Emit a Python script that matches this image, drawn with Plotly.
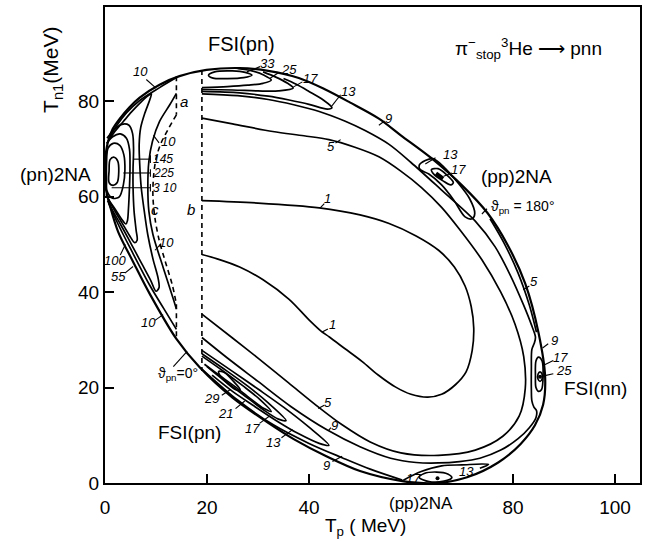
import plotly.graph_objects as go

# ---------------- axes ----------------
X_RANGE = [0, 104.9]
Y_RANGE = [0, 99.8]
X_TICKS = [0, 20, 40, 80, 100]
Y_TICKS = [0, 20, 40, 60, 80]

# ---------------- kinematic boundary (Tp, Tn1) ----------------
BOUNDARY = [(0.0, 64.5), (0.1, 68.5), (0.6, 71.6), (1.5, 74.2), (2.9, 76.4), (4.8, 78.8),
            (6.8, 80.8), (10.7, 83.5), (14.6, 85.3), (19.9, 86.6), (26.4, 87.0), (32.0, 86.4),
            (38.0, 84.9), (43.0, 82.6), (48.0, 79.8), (53.7, 76.4), (58.0, 72.9), (64.0, 68.1),
            (70.0, 62.4), (75.0, 56.6), (79.0, 49.8), (82.4, 41.8), (85.0, 31.5), (86.3, 22.2),
            (85.9, 16.4), (84.3, 12.1), (81.5, 8.2), (77.1, 4.3), (71.0, 1.2), (65.2, 0.0),
            (58.3, 0.4), (50.0, 2.5), (43.4, 5.6), (37.0, 9.2), (32.0, 12.6), (25.0, 17.9),
            (18.6, 24.2), (14.0, 30.2), (8.8, 39.6), (5.5, 46.4), (2.6, 52.6), (1.0, 58.0),
            (0.2, 61.5), (0.0, 64.5)]

# ---------------- right region contours ----------------
C1 = [(19.0, 59.2), (30.0, 58.7), (42.0, 57.7), (50.0, 56.2), (55.7, 54.4), (61.0, 51.8),
      (65.4, 48.8), (68.5, 45.3), (70.6, 41.3), (71.8, 37.0), (72.3, 32.5), (72.0, 27.8),
      (70.8, 23.3), (68.7, 20.6), (66.0, 18.6), (63.3, 18.0), (60.0, 18.6), (57.0, 20.1),
      (53.5, 22.7), (50.5, 25.4), (47.0, 28.2), (44.0, 30.6), (42.3, 31.9), (40.0, 34.2),
      (36.1, 38.5), (31.0, 42.6), (26.4, 45.3), (22.0, 47.0), (19.0, 47.9)]
C5 = [(19.0, 76.5), (25.0, 75.3), (32.9, 73.7), (39.0, 72.8), (43.9, 72.0), (49.0, 70.4),
      (53.7, 68.4), (58.0, 65.4), (62.0, 62.0), (66.0, 57.8), (69.5, 53.2), (73.9, 46.8),
      (77.6, 40.0), (80.4, 33.3), (82.1, 26.5), (82.4, 19.8), (81.2, 14.0), (78.0, 9.8),
      (72.6, 6.9), (65.4, 5.8), (58.0, 6.3), (52.0, 8.6), (46.5, 12.2), (42.0, 15.8),
      (36.0, 21.0), (30.0, 26.2), (25.0, 30.4), (19.0, 35.4)]
C9 = [(19.0, 81.6), (26.0, 81.2), (32.0, 80.4), (37.0, 79.3), (42.0, 77.9), (47.0, 75.9),
      (51.0, 73.9), (55.7, 71.0), (60.0, 67.2), (66.0, 61.4), (72.6, 54.9), (76.5, 49.5),
      (79.5, 43.5), (82.0, 37.5), (83.6, 33.2), (84.4, 30.6), (84.2, 29.4), (83.7, 28.0),
      (83.6, 24.0), (83.6, 19.5), (83.7, 17.2), (84.1, 15.9), (84.6, 15.2), (84.5, 13.7),
      (83.2, 11.6), (81.0, 9.3), (77.6, 6.9), (73.5, 5.2), (69.5, 4.5), (65.4, 4.2),
      (61.0, 4.3), (56.0, 5.2), (50.0, 7.6), (43.6, 11.1), (36.5, 16.0), (30.0, 21.3),
      (24.0, 26.2), (19.0, 30.5)]
C9_LOW = [(58.3, 0.6), (52.0, 2.9), (46.5, 5.3), (40.0, 8.3), (33.0, 12.2), (26.0, 17.4),
          (19.0, 23.9)]
C5_SLIVER = [(75.5, 55.4), (78.3, 50.2), (81.0, 44.0), (83.2, 37.3), (84.6, 31.6)]

# FSI(pn) ridge, upper band
T33_UP = [(20.3, 85.5), (21.5, 86.2), (25.0, 86.4), (27.5, 86.1), (28.8, 85.5), (27.2, 85.0),
          (24.0, 84.8), (21.2, 84.9), (20.3, 85.5)]
T25_UP = [(19.0, 82.9), (24.0, 83.1), (28.0, 83.4), (31.0, 83.8), (32.6, 84.5), (31.2, 85.5),
          (28.8, 86.4), (26.0, 86.9)]
T17_UP = [(19.0, 82.5), (25.0, 82.4), (30.0, 82.2), (34.0, 82.2), (36.9, 82.8), (35.8, 83.8),
          (33.5, 85.1), (31.0, 86.2)]
T13_UP = [(19.0, 82.1), (26.4, 81.8), (32.0, 81.1), (36.1, 80.3), (40.0, 79.4), (43.6, 78.4),
          (44.5, 78.7), (42.8, 80.3), (40.0, 82.1), (37.5, 83.6), (35.0, 84.8)]

# FSI(pn) ridge, lower band
T13_LOW = [(19.0, 27.8), (25.0, 23.4), (30.0, 19.7), (35.0, 15.9), (40.0, 11.7), (43.9, 7.9),
           (42.0, 8.3), (38.0, 10.3), (34.0, 12.8), (29.0, 16.3), (25.0, 19.2), (21.0, 22.6)]
T17_LOW = [(19.0, 27.1), (24.0, 23.4), (28.0, 20.3), (32.0, 16.8), (35.5, 13.1), (34.0, 13.4),
           (31.0, 15.4), (27.0, 18.6), (23.0, 21.8), (20.0, 24.4)]
T21_LOW = [(19.0, 26.6), (23.0, 23.6), (27.0, 20.4), (30.5, 17.4), (32.6, 15.0), (31.2, 15.6),
           (28.5, 17.7), (25.5, 20.2), (22.0, 22.9), (19.5, 24.9)]
T29_LOW = [(22.3, 23.4), (23.5, 23.1), (25.2, 21.3), (26.5, 19.6), (25.8, 19.5), (24.2, 20.7),
           (22.5, 22.6), (22.3, 23.4)]

# FSI(nn)
N17 = [(85.0, 26.4), (84.5, 25.6), (84.4, 22.5), (84.5, 20.0), (85.0, 19.2), (85.6, 19.6),
       (85.9, 22.5), (85.7, 25.6), (85.0, 26.4)]
N25 = [(85.3, 23.3), (84.9, 22.8), (84.9, 21.8), (85.3, 21.3), (85.7, 21.8), (85.7, 22.8),
       (85.3, 23.3)]

# (pp)2NA upper right
P13 = [(61.6, 66.6), (62.8, 67.6), (64.3, 68.0), (66.5, 66.2), (69.0, 63.2), (71.5, 59.6),
       (72.5, 56.5), (72.0, 55.4), (70.6, 55.8), (68.4, 59.3), (66.0, 62.5), (63.5, 64.8),
       (61.8, 65.7), (61.6, 66.6)]
P17 = [(64.0, 65.7), (65.3, 65.9), (67.0, 64.6), (68.3, 63.0), (67.8, 62.5), (66.2, 63.4),
       (64.6, 64.6), (64.0, 65.7)]
P_CORE = [(64.9, 64.9), (66.3, 63.8)]

# (pp)2NA bottom
B17 = [(61.6, 1.2), (62.6, 2.0), (65.0, 2.3), (67.2, 1.9), (68.0, 1.1), (66.5, 0.4),
       (63.5, 0.3), (61.6, 1.2)]
B13 = [(58.5, 0.6), (62.0, 2.4), (66.0, 3.6), (70.0, 3.8), (75.2, 3.9), (73.5, 3.1)]
PEAK_DOTS = [(65.2, 1.0), (85.3, 22.3)]

# ---------------- left region ((pn)2NA) ----------------
L10_UP = [(14.0, 85.0), (10.7, 82.9), (6.8, 80.2), (4.2, 77.6), (2.2, 74.8), (0.9, 72.4)]
L10_LOW = [(0.7, 58.8), (2.6, 54.2), (5.5, 48.1), (8.8, 41.4), (11.5, 36.6), (14.0, 32.2)]
L10_MID = [(14.0, 81.7), (12.7, 79.3), (10.7, 75.8), (9.3, 71.6), (8.6, 67.4), (8.4, 62.0),
           (8.6, 57.0), (9.4, 52.1), (11.4, 45.2), (13.3, 38.9), (14.0, 36.5)]
L55 = [(0.6, 71.6), (2.0, 73.8), (3.6, 75.8), (5.2, 77.8), (6.8, 79.6), (8.2, 81.0), (9.1, 81.6),
       (8.8, 80.4), (7.8, 77.5), (7.0, 74.5), (6.7, 71.0), (6.8, 67.0), (7.1, 62.0), (7.7, 57.0),
       (8.4, 52.0), (9.4, 47.0), (10.4, 43.0), (10.6, 41.0), (10.0, 40.2), (9.0, 42.4),
       (7.5, 45.4), (6.0, 48.4), (4.5, 51.4), (3.0, 54.3), (1.5, 57.1), (0.5, 59.2)]
L100 = [(0.4, 72.3), (1.8, 74.1), (3.3, 75.2), (4.7, 75.0), (5.4, 73.3), (5.6, 70.0), (5.5, 66.0),
        (5.5, 62.0), (5.7, 57.0), (6.1, 53.0), (6.3, 50.9), (5.8, 50.4), (4.8, 51.9), (3.3, 54.6),
        (1.8, 57.3), (0.5, 59.8)]
L145 = [(0.3, 71.2), (1.5, 72.6), (3.0, 73.2), (4.2, 72.3), (4.8, 70.0), (4.9, 66.0), (4.8, 62.0),
        (4.6, 57.5), (4.4, 55.0), (4.1, 54.3), (3.2, 55.4), (2.0, 57.4), (0.9, 59.1), (0.2, 60.5)]
L225 = [(0.4, 61.2), (1.5, 59.7), (2.8, 60.0), (3.6, 62.5), (3.9, 65.5), (3.7, 68.8), (2.9, 70.8),
        (1.6, 71.2), (0.6, 70.2), (0.3, 67.0), (0.3, 63.5), (0.4, 61.2)]
L310 = [(0.8, 63.0), (1.6, 62.4), (2.4, 63.0), (2.7, 65.3), (2.5, 67.5), (1.8, 68.3), (1.0, 67.8),
        (0.8, 65.5), (0.8, 63.0)]

# ---------------- dashed cut lines ----------------
DASH_C_TOP = [(14.0, 85.3), (14.0, 77.2)]
DASH_C_CURVE = [(14.0, 77.2), (12.5, 74.4), (11.0, 71.3), (10.0, 68.0), (9.5, 64.0), (9.4, 60.0),
                (9.8, 55.5), (10.6, 51.0), (11.8, 46.5), (13.2, 41.5), (14.0, 37.5)]
DASH_C_BOT = [(14.0, 37.5), (14.0, 30.2)]
DASH_RIGHT = [(19.0, 86.6), (19.0, 23.5)]

# ---------------- contour value labels: (text, Tp, Tn1) and leader segments ----------------
NUM_LABELS = [("10", 6.9, 86.2), ("10", 12.4, 71.7), ("10", 12.1, 50.4), ("100", 2.0, 46.6),
              ("55", 2.6, 43.2), ("10", 8.5, 33.6), ("33", 31.9, 87.9), ("25", 36.1, 86.8),
              ("17", 40.2, 84.8), ("13", 47.7, 82.0), ("9", 55.5, 76.4), ("13", 67.7, 68.9),
              ("17", 69.3, 65.8), ("5", 84.2, 42.2), ("9", 88.2, 29.9), ("17", 89.4, 26.3),
              ("25", 89.9, 23.5), ("1", 43.7, 59.6), ("1", 44.6, 33.2), ("5", 43.8, 16.9),
              ("9", 45.0, 12.1), ("9", 43.5, 3.7), ("13", 33.0, 8.5), ("17", 28.9, 11.5),
              ("21", 23.6, 14.6), ("29", 20.8, 17.7), ("17", 60.4, 1.0), ("13", 70.8, 2.5),
              ("5", 44.4, 70.5)]
PEAK_LABELS = [("145", 9.3, 67.9), ("225", 9.3, 65.0), ("3 10", 9.3, 61.9)]
LEADERS = [((8.1, 84.6), (10.0, 82.8)), ((9.5, 72.9), (10.6, 71.3)), ((5.5, 67.9), (8.9, 67.9)),
           ((8.9, 67.1), (8.9, 68.7)), ((3.6, 65.0), (8.9, 65.0)), ((8.9, 64.2), (8.9, 65.8)),
           ((1.3, 61.9), (8.9, 61.9)), ((8.9, 61.1), (8.9, 62.7)), ((9.8, 48.8), (11.0, 50.2)),
           ((3.0, 47.8), (4.0, 50.0)), ((3.9, 44.0), (5.5, 45.4)), ((9.8, 34.1), (11.4, 35.3)),
           ((30.4, 87.3), (27.8, 86.2)), ((34.0, 86.0), (32.3, 84.8)), ((38.7, 84.1), (36.9, 83.0)),
           ((46.2, 81.4), (44.3, 78.8)), ((54.8, 75.9), (53.7, 75.0)), ((64.8, 68.2), (62.8, 66.9)),
           ((68.0, 65.0), (66.4, 64.3)), ((83.2, 41.3), (82.0, 40.5)), ((86.9, 29.2), (85.8, 28.3)),
           ((87.9, 25.7), (86.2, 24.8)), ((87.9, 22.9), (85.8, 22.4)), ((43.0, 58.6), (42.2, 57.7)),
           ((43.7, 32.3), (42.5, 31.6)), ((43.0, 16.3), (41.8, 15.6)), ((44.3, 11.6), (43.8, 11.0)),
           ((44.6, 4.5), (46.5, 5.6)), ((34.6, 9.5), (36.8, 11.2)), ((30.3, 12.5), (32.2, 14.0)),
           ((25.6, 15.6), (27.4, 17.2)), ((22.9, 18.4), (24.6, 19.6)), ((45.2, 71.3), (46.2, 72.0)),
           ((13.4, 24.4), (16.1, 27.6)), ((74.9, 57.5), (73.9, 56.4))]

REGION_LABELS = [("a", 15.5, 80.0), ("b", 16.9, 57.3), ("c", 9.8, 57.3)]

# big text labels inside the data range: (text, Tp, Tn1, size)
BIG_LABELS = [("FSI(pn)", 26.8, 92.1, 20), ("(pp)2NA", 80.7, 64.3, 19),
              ("FSI(nn)", 96.1, 19.8, 19), ("FSI(pn)", 16.6, 10.6, 19)]
# big text labels outside the axes, in pixel positions of the 647x541 page: (text, px, py, size)
OUTER_LABELS = [("(pn)2NA", 55, 173, 19), ("(pp)2NA", 422, 504, 17)]

# ---------------- figure ----------------
FONT = "Liberation Sans"
W, H = 647, 541
ML, MR, MT, MB = 105, 5, 5, 58
PW, PH = W - ML - MR, H - MT - MB
fig = go.Figure()


def add_line(pts, width=1.7, dash=None, shape="spline", smoothing=1.0):
    xs = [p[0] for p in pts]
    ys = [p[1] for p in pts]
    line = dict(color="black", width=width, shape=shape)
    if dash:
        line["dash"] = dash
    if shape == "spline":
        line["smoothing"] = smoothing
    fig.add_trace(go.Scatter(x=xs, y=ys, mode="lines", line=line,
                             hoverinfo="skip", showlegend=False))


def px_to_paper(px, py):
    return (px - ML) / PW, (H - MB - py) / PH


add_line(BOUNDARY, width=2.2, smoothing=0.9)
for c in [C1, C5, C9, C9_LOW, C5_SLIVER, T13_UP, T17_UP, T25_UP, T33_UP,
          T13_LOW, T17_LOW, T21_LOW, T29_LOW, N17, N25, P13, P17, B17, B13,
          L10_UP, L10_LOW, L10_MID, L55, L100, L145, L225, L310]:
    add_line(c, width=1.7, smoothing=0.9)
add_line(P_CORE, width=4, shape="linear")

for seg in [DASH_C_TOP, DASH_C_BOT, DASH_RIGHT]:
    add_line(seg, width=1.6, dash="5px,4px", shape="linear")
add_line(DASH_C_CURVE, width=1.6, dash="5px,4px", smoothing=0.9)

# leaders
lx, ly = [], []
for (a, b) in LEADERS:
    lx += [a[0], b[0], None]
    ly += [a[1], b[1], None]
fig.add_trace(go.Scatter(x=lx, y=ly, mode="lines", line=dict(color="black", width=1.1),
                         hoverinfo="skip", showlegend=False))

fig.add_trace(go.Scatter(x=[p[0] for p in PEAK_DOTS], y=[p[1] for p in PEAK_DOTS], mode="markers",
                         marker=dict(color="black", size=4), hoverinfo="skip", showlegend=False))

for (t, x, y) in NUM_LABELS:
    fig.add_annotation(x=x, y=y, text="<i>%s</i>" % t, showarrow=False,
                       xanchor="center", yanchor="middle",
                       font=dict(family=FONT, size=13, color="black"))
for (t, x, y) in PEAK_LABELS:
    fig.add_annotation(x=x, y=y, text="<i>%s</i>" % t, showarrow=False,
                       xanchor="left", yanchor="middle", borderpad=0,
                       font=dict(family=FONT, size=12, color="black"))
for (t, x, y) in REGION_LABELS:
    fig.add_annotation(x=x, y=y, text="<i>%s</i>" % t, showarrow=False,
                       font=dict(family=FONT, size=15, color="black"))
for (t, x, y, s) in BIG_LABELS:
    fig.add_annotation(x=x, y=y, text=t, showarrow=False,
                       font=dict(family=FONT, size=s, color="black"))
for (t, px, py, s) in OUTER_LABELS:
    ax, ay = px_to_paper(px, py)
    fig.add_annotation(xref="paper", yref="paper", x=ax, y=ay, text=t, showarrow=False,
                       xanchor="center", yanchor="middle",
                       font=dict(family=FONT, size=s, color="black"))

fig.add_annotation(x=75.2, y=57.8, text="ϑ<sub>pn</sub> = 180°", showarrow=False, xanchor="left",
                   font=dict(family=FONT, size=14, color="black"))
fig.add_annotation(x=10.0, y=22.8, text="ϑ<sub>pn</sub>=0°", showarrow=False, xanchor="left",
                   font=dict(family=FONT, size=14, color="black"))
fig.add_annotation(x=83.0, y=91.0,
                   text="π<sup>−</sup><sub>stop</sub><sup>3</sup>He ⟶ pnn", showarrow=False,
                   font=dict(family=FONT, size=19, color="black"))

# axis titles
tx, ty = px_to_paper(366, 527)
fig.add_annotation(xref="paper", yref="paper", x=tx, y=ty, xanchor="center", yanchor="middle",
                   text="T<sub>p</sub> ( MeV)", showarrow=False,
                   font=dict(family=FONT, size=19, color="black"))
tx, ty = px_to_paper(52, 68)
fig.add_annotation(xref="paper", yref="paper", x=tx, y=ty, xanchor="center", yanchor="middle",
                   text="T<sub>n1</sub>(MeV)", showarrow=False, textangle=-90,
                   font=dict(family=FONT, size=21, color="black"))

fig.update_xaxes(range=X_RANGE, tickvals=X_TICKS, ticktext=[str(v) for v in X_TICKS],
                 ticks="inside", ticklen=9, tickwidth=1.5, tickcolor="black",
                 showline=True, linewidth=2, linecolor="black", mirror=True,
                 showgrid=False, zeroline=False, ticklabelstandoff=6,
                 tickfont=dict(family=FONT, size=19, color="black"))
fig.update_yaxes(range=Y_RANGE, tickvals=Y_TICKS, ticktext=[str(v) for v in Y_TICKS],
                 ticks="inside", ticklen=9, tickwidth=1.5, tickcolor="black",
                 showline=True, linewidth=2, linecolor="black", mirror=True,
                 showgrid=False, zeroline=False,
                 tickfont=dict(family=FONT, size=19, color="black"))

fig.update_layout(width=W, height=H, margin=dict(l=ML, r=MR, t=MT, b=MB),
                  paper_bgcolor="white", plot_bgcolor="white", showlegend=False)

fig.write_html("out.html")
